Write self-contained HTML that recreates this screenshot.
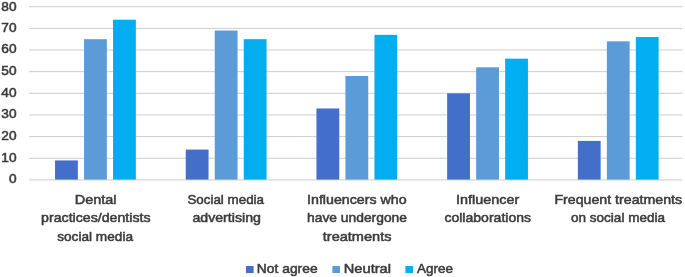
<!DOCTYPE html>
<html><head><meta charset="utf-8"><style>
html,body{margin:0;padding:0;background:#fff;width:685px;height:277px;overflow:hidden}
svg{display:block;filter:blur(0.45px)}
text{font-family:"Liberation Sans",sans-serif;font-size:13.7px;fill:#3b3b3b;stroke:#3b3b3b;stroke-width:0.55px}
</style></head><body>
<svg width="685" height="277" viewBox="0 0 685 277">
<rect width="685" height="277" fill="#fff"/>
<rect x="29" y="6.20" width="653.5" height="1" fill="#cccccc"/>
<rect x="29" y="27.85" width="653.5" height="1" fill="#cccccc"/>
<rect x="29" y="49.50" width="653.5" height="1" fill="#cccccc"/>
<rect x="29" y="71.15" width="653.5" height="1" fill="#cccccc"/>
<rect x="29" y="92.80" width="653.5" height="1" fill="#cccccc"/>
<rect x="29" y="114.45" width="653.5" height="1" fill="#cccccc"/>
<rect x="29" y="136.10" width="653.5" height="1" fill="#cccccc"/>
<rect x="29" y="157.75" width="653.5" height="1" fill="#cccccc"/>
<rect x="29" y="179.40" width="653.5" height="1" fill="#cccccc"/>
<text x="16.6" y="11.10" text-anchor="end">80</text>
<text x="16.6" y="31.65" text-anchor="end">70</text>
<text x="16.6" y="53.30" text-anchor="end">60</text>
<text x="16.6" y="74.95" text-anchor="end">50</text>
<text x="16.6" y="96.60" text-anchor="end">40</text>
<text x="16.6" y="118.25" text-anchor="end">30</text>
<text x="16.6" y="139.90" text-anchor="end">20</text>
<text x="16.6" y="161.55" text-anchor="end">10</text>
<text x="16.6" y="183.20" text-anchor="end">0</text>
<rect x="55.05" y="160.42" width="22.8" height="19.18" fill="#436FCA"/>
<rect x="84.05" y="39.18" width="22.8" height="140.42" fill="#5B9BD7"/>
<rect x="113.05" y="19.69" width="22.8" height="159.91" fill="#02AEF0"/>
<rect x="185.75" y="149.59" width="22.8" height="30.01" fill="#436FCA"/>
<rect x="214.75" y="30.52" width="22.8" height="149.08" fill="#5B9BD7"/>
<rect x="243.75" y="39.18" width="22.8" height="140.42" fill="#02AEF0"/>
<rect x="316.45" y="108.45" width="22.8" height="71.14" fill="#436FCA"/>
<rect x="345.45" y="75.98" width="22.8" height="103.62" fill="#5B9BD7"/>
<rect x="374.45" y="34.84" width="22.8" height="144.75" fill="#02AEF0"/>
<rect x="447.15" y="93.30" width="22.8" height="86.30" fill="#436FCA"/>
<rect x="476.15" y="67.32" width="22.8" height="112.28" fill="#5B9BD7"/>
<rect x="505.15" y="58.66" width="22.8" height="120.94" fill="#02AEF0"/>
<rect x="577.85" y="140.93" width="22.8" height="38.67" fill="#436FCA"/>
<rect x="606.85" y="41.34" width="22.8" height="138.26" fill="#5B9BD7"/>
<rect x="635.85" y="37.01" width="22.8" height="142.59" fill="#02AEF0"/>
<text x="74.81" y="204.3" textLength="41.78" lengthAdjust="spacingAndGlyphs">Dental</text>
<text x="41.08" y="221.9" textLength="109.43" lengthAdjust="spacingAndGlyphs">practices/dentists</text>
<text x="57.23" y="241.4" textLength="75.79" lengthAdjust="spacingAndGlyphs">social media</text>
<text x="187.40" y="204.3" textLength="76.61" lengthAdjust="spacingAndGlyphs">Social media</text>
<text x="192.40" y="221.9" textLength="68.50" lengthAdjust="spacingAndGlyphs">advertising</text>
<text x="307.09" y="204.3" textLength="99.51" lengthAdjust="spacingAndGlyphs">Influencers who</text>
<text x="307.03" y="221.9" textLength="99.97" lengthAdjust="spacingAndGlyphs">have undergone</text>
<text x="322.78" y="241.4" textLength="68.72" lengthAdjust="spacingAndGlyphs">treatments</text>
<text x="456.07" y="204.3" textLength="63.13" lengthAdjust="spacingAndGlyphs">Influencer</text>
<text x="444.40" y="221.9" textLength="86.70" lengthAdjust="spacingAndGlyphs">collaborations</text>
<text x="554.43" y="204.3" textLength="127.66" lengthAdjust="spacingAndGlyphs">Frequent treatments</text>
<text x="571.03" y="221.9" textLength="93.99" lengthAdjust="spacingAndGlyphs">on social media</text>
<rect x="246" y="266" width="7.6" height="7" fill="#436FCA"/>
<text x="256.86" y="272.6" textLength="60.75" lengthAdjust="spacingAndGlyphs">Not agree</text>
<rect x="332.4" y="266" width="7.6" height="7" fill="#5B9BD7"/>
<text x="343.79" y="272.6" textLength="47.18" lengthAdjust="spacingAndGlyphs">Neutral</text>
<rect x="405.4" y="266" width="7.6" height="7" fill="#02AEF0"/>
<text x="416.97" y="272.6" textLength="36.02" lengthAdjust="spacingAndGlyphs">Agree</text>
</svg>
</body></html>
